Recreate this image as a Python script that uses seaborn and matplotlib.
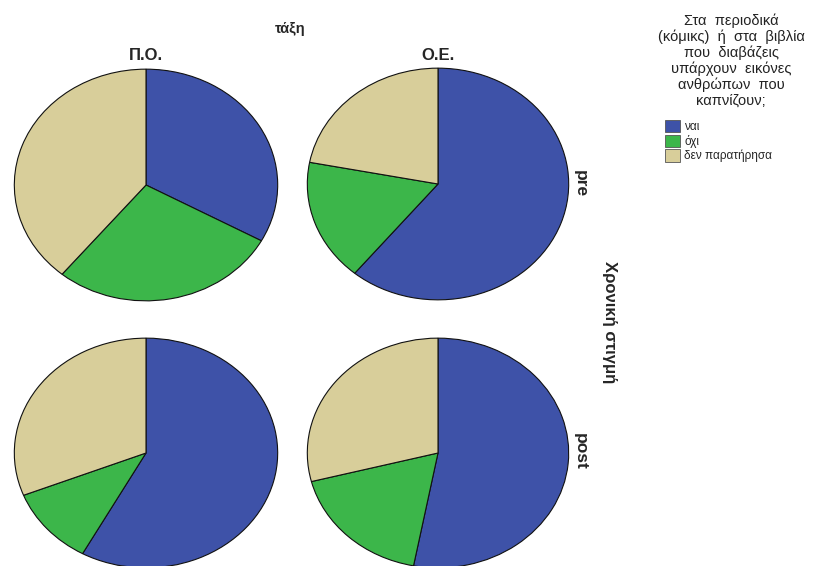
import matplotlib
matplotlib.use("Agg")
import matplotlib.pyplot as plt
from matplotlib.patches import Patch
import seaborn as sns

# ---- data (percentages) ----
classes = ["Π.Ο.", "Ο.Ε."]
times = ["pre", "post"]
answers = ["ναι", "όχι", "δεν παρατήρησα"]
po_pre = [33, 28, 39]
oe_pre = [61, 17, 22]
po_post = [58, 11, 31]
oe_post = [53, 18, 29]

colors = ["#3E52A8", "#3CB64A", "#D8CE9A"]

sns.set_theme(style="white")
plt.rcParams['font.family'] = ['Liberation Sans', 'DejaVu Sans']

W, H = 819, 566
fig = plt.figure(figsize=(W / 100, H / 100), dpi=100)


def add_pie(cx, cy, rx, ry, values):
    ax = fig.add_axes([(cx - rx) / W, (H - cy - ry) / H, 2 * rx / W, 2 * ry / H])
    ax.pie(values, colors=colors, startangle=90, counterclock=False,
           wedgeprops=dict(edgecolor="#111111", linewidth=0.8))
    ax.set_aspect('auto')
    ax.set_xlim(-1.01, 1.01)
    ax.set_ylim(-1.01, 1.01)
    ax.axis('off')
    return ax


add_pie(146, 185, 133, 117, po_pre)
add_pie(438, 184, 132, 117, oe_pre)
add_pie(146, 453, 133, 116, po_post)
add_pie(438, 453, 132, 116, oe_post)

# column header
fig.text(290 / W, 1 - 29 / H, "τάξη", ha="center", va="center", fontsize=10.5, fontweight="bold")
fig.text(146 / W, 1 - 55 / H, classes[0], ha="center", va="center", fontsize=12, fontweight="bold")
fig.text(438 / W, 1 - 55 / H, classes[1], ha="center", va="center", fontsize=12, fontweight="bold")

# row labels
fig.text(580 / W, 1 - 184 / H, times[0], ha="center", va="center", fontsize=12.5,
         fontweight="bold", rotation=-90)
fig.text(580 / W, 1 - 451 / H, times[1], ha="center", va="center", fontsize=12.5,
         fontweight="bold", rotation=-90)
fig.text(610 / W, 1 - 322 / H, "Χρονική στιγμή", ha="center", va="center", fontsize=12,
         fontweight="bold", rotation=-90)

# legend title
fig.text(731 / W, 1 - 14 / H,
         "Στα  περιοδικά\n(κόμικς)  ή  στα  βιβλία\nπου  διαβάζεις\nυπάρχουν  εικόνες\nανθρώπων  που\nκαπνίζουν;",
         ha="center", va="top", fontsize=10.5, linespacing=1.12, color="#222222")

handles = [Patch(facecolor=c, edgecolor="#555555", linewidth=0.6) for c in colors]
fig.legend(handles, answers, loc="upper left", bbox_to_anchor=(665 / W, 1 - 120 / H),
           frameon=False, fontsize=8.5, handlelength=1.25, handleheight=1.25,
           handletextpad=0.4, labelspacing=0.12, borderpad=0, borderaxespad=0)

fig.savefig("out.png", dpi=100, facecolor="white")
